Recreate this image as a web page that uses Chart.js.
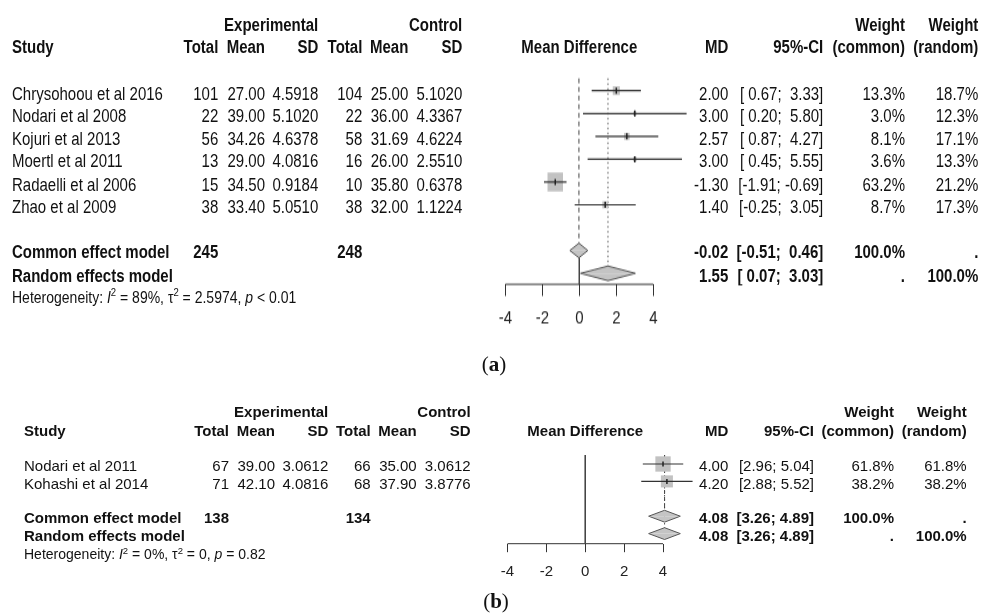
<!DOCTYPE html>
<html>
<head>
<meta charset="utf-8">
<title>Forest plots</title>
<script src="https://cdn.jsdelivr.net/npm/chart.js@4.4.1/dist/chart.umd.min.js"></script>
<style>
  html, body { margin: 0; padding: 0; background: #fff; }
  #fig { position: relative; width: 981px; height: 614px; overflow: hidden;
         font-family: "Liberation Sans", Arial, sans-serif; color: #111; }
  .panel { position: absolute; left: 0; top: 0; width: 981px; }
  #panelA { height: 290px; transform: scaleY(1.23); transform-origin: 0 0; }
  #panelB { height: 614px; }
  .t { position: absolute; white-space: pre; }
  .t.r { transform: translateX(-100%); }
  .t.c { transform: translateX(-50%); }
  .b { font-weight: bold; }
  .t sup { font-size: 0.68em; vertical-align: 0; position: relative; top: -0.55em; }
  canvas { position: absolute; }
  .cap { position: absolute; font-family: "Liberation Serif", "Times New Roman", serif;
         font-size: 21px; line-height: 21px; transform: translateX(-50%); }
</style>
</head>
<body>
<div id="fig">
  <div id="panelA" class="panel"><canvas id="chartA" width="237" height="235"></canvas></div>
  <div id="panelB" class="panel"><canvas id="chartB" width="249" height="160"></canvas></div>
  <div class="cap" style="left:494px;top:354px">(<b>a</b>)</div>
  <div class="cap" style="left:496px;top:591px">(<b>b</b>)</div>
</div>
<script>
// panel (a)
const studiesA = ['Chrysohoou et al 2016', 'Nodari et al 2008', 'Kojuri et al 2013',
                  'Moertl et al 2011', 'Radaelli et al 2006', 'Zhao et al 2009'];
const expTotalA = [101, 22, 56, 13, 15, 38];
const expMeanA = [27.00, 39.00, 34.26, 29.00, 34.50, 33.40];
const expSdA = [4.5918, 5.1020, 4.6378, 4.0816, 0.9184, 5.0510];
const ctlTotalA = [104, 22, 58, 16, 10, 38];
const ctlMeanA = [25.00, 36.00, 31.69, 26.00, 35.80, 32.00];
const ctlSdA = [5.1020, 4.3367, 4.6224, 2.5510, 0.6378, 1.1224];
const mdA = [2.00, 3.00, 2.57, 3.00, -1.30, 1.40];
const loA = [0.67, 0.20, 0.87, 0.45, -1.91, -0.25];
const hiA = [3.33, 5.80, 4.27, 5.55, -0.69, 3.05];
const wCommonA = [13.3, 3.0, 8.1, 3.6, 63.2, 8.7];
const wRandomA = [18.7, 12.3, 17.1, 13.3, 21.2, 17.3];
const totalsA = [245, 248];
const sumMdA = [-0.02, 1.55];
const sumLoA = [-0.51, 0.07];
const sumHiA = [0.46, 3.03];
const hetA = ['89%', '2.5974', '&lt; 0.01'];

// panel (b)
const studiesB = ['Nodari et al 2011', 'Kohashi et al 2014'];
const expTotalB = [67, 71];
const expMeanB = [39.00, 42.10];
const expSdB = [3.0612, 4.0816];
const ctlTotalB = [66, 68];
const ctlMeanB = [35.00, 37.90];
const ctlSdB = [3.0612, 3.8776];
const mdB = [4.00, 4.20];
const loB = [2.96, 2.88];
const hiB = [5.04, 5.52];
const wCommonB = [61.8, 38.2];
const wRandomB = [61.8, 38.2];
const totalsB = [138, 134];
const sumMdB = [4.08, 4.08];
const sumLoB = [3.26, 3.26];
const sumHiB = [4.89, 4.89];
const hetB = ['0%', '0', '= 0.82'];

const summaryLabels = ['Common effect model', 'Random effects model'];
const xTicks = [-4, -2, 0, 2, 4];
const xMax = 6; // room on the right for CIs running past the last tick

function put(box, html, x, y, align, bold, size) {
  const fs = size || 15;
  const d = document.createElement('div');
  d.className = 't' + (align ? ' ' + align : '') + (bold ? ' b' : '');
  d.style.fontSize = fs + 'px';
  d.style.lineHeight = fs + 'px';
  d.style.left = x + 'px';
  d.style.top = (y - 0.49 * fs) + 'px';
  d.innerHTML = html;
  box.appendChild(d);
}

function ciText(lo, hi, w) {
  return '[' + lo.toFixed(2).padStart(w) + '; ' + hi.toFixed(2).padStart(w) + ']';
}

function drawPanel(p) {
  const box = document.getElementById(p.box);
  const c = p.cols;
  const n = p.studies.length;
  const rowC = n + 1, rowR = n + 2;
  const ty = r => p.textY0 + p.textStep * r;
  const w = Math.max(...p.lo.concat(p.hi, p.sumLo, p.sumHi).map(v => v.toFixed(2).length));

  // header
  put(box, 'Experimental', c.expSd, p.head1, 'r', true);
  put(box, 'Control', c.ctlSd, p.head1, 'r', true);
  put(box, 'Weight', c.wC, p.head1, 'r', true);
  put(box, 'Weight', c.wR, p.head1, 'r', true);
  [['Study', c.study, ''], ['Total', c.expTotal, 'r'], ['Mean', c.expMean, 'r'], ['SD', c.expSd, 'r'],
   ['Total', c.ctlTotal, 'r'], ['Mean', c.ctlMean, 'r'], ['SD', c.ctlSd, 'r'], ['MD', c.md, 'r'],
   ['95%-CI', c.ci, 'r'], ['(common)', c.wC, 'r'], ['(random)', c.wR, 'r']]
    .forEach(h => put(box, h[0], h[1], p.head2, h[2], true));

  // study rows
  p.studies.forEach((s, i) => {
    const y = ty(i);
    put(box, s, c.study, y, '');
    put(box, String(p.expTotal[i]), c.expTotal, y, 'r');
    put(box, p.expMean[i].toFixed(2), c.expMean, y, 'r');
    put(box, p.expSd[i].toFixed(4), c.expSd, y, 'r');
    put(box, String(p.ctlTotal[i]), c.ctlTotal, y, 'r');
    put(box, p.ctlMean[i].toFixed(2), c.ctlMean, y, 'r');
    put(box, p.ctlSd[i].toFixed(4), c.ctlSd, y, 'r');
    put(box, p.md[i].toFixed(2), c.md, y, 'r');
    put(box, ciText(p.lo[i], p.hi[i], w), c.ci, y, 'r');
    put(box, p.wCommon[i].toFixed(1) + '%', c.wC, y, 'r');
    put(box, p.wRandom[i].toFixed(1) + '%', c.wR, y, 'r');
  });

  // pooled rows
  [rowC, rowR].forEach((r, k) => {
    const y = ty(r);
    put(box, summaryLabels[k], c.study, y, '', true);
    if (k === 0) {
      put(box, String(p.totals[0]), c.expTotal, y, 'r', true);
      put(box, String(p.totals[1]), c.ctlTotal, y, 'r', true);
    }
    put(box, p.sumMd[k].toFixed(2), c.md, y, 'r', true);
    put(box, ciText(p.sumLo[k], p.sumHi[k], w), c.ci, y, 'r', true);
    put(box, k === 0 ? '100.0%' : '.', c.wC, y, 'r', true);
    put(box, k === 1 ? '100.0%' : '.', c.wR, y, 'r', true);
  });
  put(box, 'Heterogeneity: <i>I</i><sup>2</sup> = ' + p.het[0] + ', \u03c4<sup>2</sup> = ' + p.het[1] +
      ', <i>p</i> ' + p.het[2], c.study, p.hetY, '', false, 14);

  // plot
  const rows = p.md.map((m, i) => ({ x: m, y: i }));
  const datasets = [];
  const seg = (pts, color, width, dash, order) => datasets.push({
    data: pts, showLine: true, borderColor: color, borderWidth: width, borderDash: dash,
    pointRadius: 0, clip: false, order: order
  });
  // axis line only across the tick range
  seg([{ x: xTicks[0], y: p.yMax }, { x: xTicks[xTicks.length - 1], y: p.yMax }], '#333', 1, [], 7);
  // null line, common (dashed) and random (dotted) effect lines
  seg([{ x: 0, y: p.nullFromTop ? p.yMin : rowC + p.halfH }, { x: 0, y: p.yMax }], '#444', 1, [], 6);
  seg([{ x: p.sumMd[0], y: p.yMin }, { x: p.sumMd[0], y: rowC - p.halfH }], '#444', 1, [4, 3], 6);
  seg([{ x: p.sumMd[1], y: p.yMin }, { x: p.sumMd[1], y: rowR - p.halfH }], '#555', 1, [1.5, 2.5], 6);

  datasets.push({
    data: rows, pointStyle: 'rect', backgroundColor: '#c2c2c2', borderWidth: 0,
    pointRadius: p.wCommon.map(v => Math.sqrt(v) * 1.95 / Math.SQRT2), clip: false, order: 5
  });
  p.lo.forEach((lo, i) => seg([{ x: lo, y: i }, { x: p.hi[i], y: i }], '#333', 1.2, [], 4));
  // pooled diamonds: upper and lower halves, each filled to the row line
  [rowC, rowR].forEach((r, k) => [-1, 1].forEach(sgn => datasets.push({
    data: [{ x: p.sumLo[k], y: r }, { x: p.sumMd[k], y: r + sgn * p.halfH }, { x: p.sumHi[k], y: r }],
    showLine: true, fill: { value: r }, backgroundColor: '#c4c4c4', borderColor: '#555',
    borderWidth: 1, pointRadius: 0, tension: 0, clip: false, order: 3
  })));
  datasets.push({
    data: rows, pointStyle: 'line', rotation: 90, pointRadius: 2.5, borderColor: '#222',
    borderWidth: 1.5, clip: false, order: 2
  });

  const cv = document.getElementById(p.canvas);
  cv.style.left = p.left + 'px';
  cv.style.top = p.top + 'px';
  const chart = new Chart(cv, {
    type: 'scatter',
    data: { datasets: datasets },
    options: {
      responsive: false,
      animation: false,
      devicePixelRatio: 1,
      events: [],
      layout: { padding: p.pad },
      plugins: { legend: { display: false }, tooltip: { enabled: false }, filler: { propagate: false } },
      scales: {
        x: {
          type: 'linear', min: xTicks[0], max: xMax,
          afterFit: s => { s.height = 40; },
          afterBuildTicks: s => { s.ticks = xTicks.map(v => ({ value: v })); },
          ticks: { color: '#222', padding: p.tickPad, font: { family: 'Liberation Sans', size: 15 } },
          grid: { drawOnChartArea: false, drawTicks: true, tickLength: p.tickLen, color: '#333', lineWidth: 1 },
          border: { display: false }
        },
        y: { type: 'linear', display: false, reverse: true, min: p.yMin, max: p.yMax }
      }
    }
  });
  put(box, 'Mean Difference', p.left + chart.scales.x.getPixelForValue(0), p.head2, 'c', true);
}

drawPanel({
  box: 'panelA', canvas: 'chartA', left: 470, top: 50,
  studies: studiesA, expTotal: expTotalA, expMean: expMeanA, expSd: expSdA,
  ctlTotal: ctlTotalA, ctlMean: ctlMeanA, ctlSd: ctlSdA, md: mdA, lo: loA, hi: hiA,
  wCommon: wCommonA, wRandom: wRandomA, totals: totalsA,
  sumMd: sumMdA, sumLo: sumLoA, sumHi: sumHiA, het: hetA,
  cols: { study: 12, expTotal: 218.3, expMean: 265, expSd: 318.3, ctlTotal: 362.3, ctlMean: 408.3,
          ctlSd: 462.3, md: 728.3, ci: 823.3, wC: 905, wR: 978.3 },
  head1: 19.7, head2: 37.5, textY0: 75.0, textStep: 18.5, hetY: 241.2,
  pad: { left: 35.3, right: 16.7, top: 13.7, bottom: 13.9 },
  yMin: -0.54, yMax: 8.48, tickLen: 9.5, tickPad: 9.2, halfH: 0.32, nullFromTop: false
});

drawPanel({
  box: 'panelB', canvas: 'chartB', left: 470, top: 430,
  studies: studiesB, expTotal: expTotalB, expMean: expMeanB, expSd: expSdB,
  ctlTotal: ctlTotalB, ctlMean: ctlMeanB, ctlSd: ctlSdB, md: mdB, lo: loB, hi: hiB,
  wCommon: wCommonB, wRandom: wRandomB, totals: totalsB,
  sumMd: sumMdB, sumLo: sumLoB, sumHi: sumHiB, het: hetB,
  cols: { study: 24, expTotal: 229, expMean: 275, expSd: 328.3, ctlTotal: 370.7, ctlMean: 416.7,
          ctlSd: 470.7, md: 728.3, ci: 814, wC: 894, wR: 966.7 },
  head1: 411.7, head2: 430, textY0: 465.5, textStep: 17.4, hetY: 554.3,
  pad: { left: 37.5, right: 17.1, top: 25, bottom: 6.3 },
  yMin: -0.517, yMax: 4.58, tickLen: 8.5, tickPad: 10.3, halfH: 0.34, nullFromTop: true
});
</script>
</body>
</html>
